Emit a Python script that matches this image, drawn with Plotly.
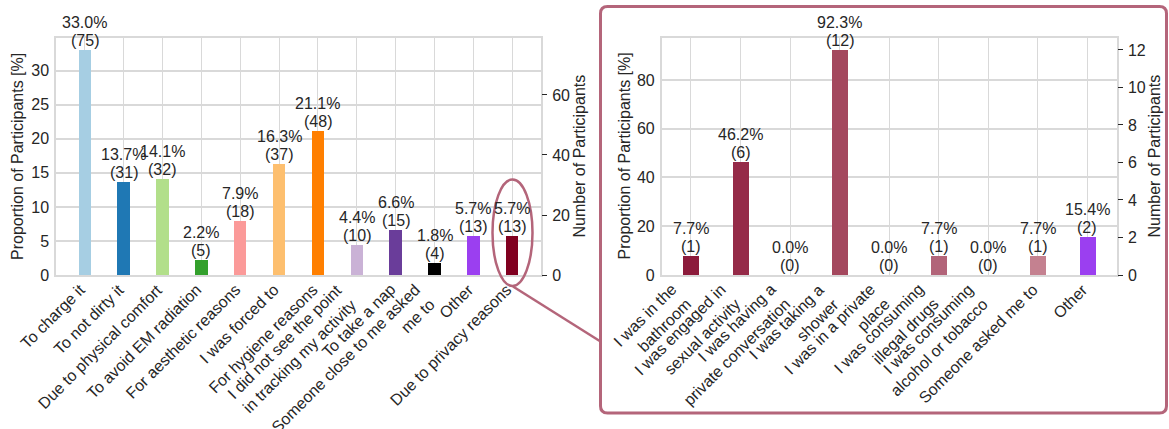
import plotly.graph_objects as go

W, H = 1169, 429

# ---------------- data ----------------
left_labels = [
    "To charge it", "To not dirty it", "Due to physical comfort", "To avoid EM radiation",
    "For aesthetic reasons", "I was forced to", "For hygiene reasons",
    "I did not see the point<br>in tracking my activity", "To take a nap",
    "Someone close to me asked<br>me to", "Other", "Due to privacy reasons",
]
left_pct = [33.0, 13.7, 14.1, 2.2, 7.9, 16.3, 21.1, 4.4, 6.6, 1.8, 5.7, 5.7]
left_cnt = [75, 31, 32, 5, 18, 37, 48, 10, 15, 4, 13, 13]
left_total = 227
left_colors = ["#a6cee3", "#1f78b4", "#b2df8a", "#33a02c", "#fb9a99", "#fdbf6f",
               "#ff7f00", "#cab2d6", "#6a3d9a", "#000000", "#9b3ff0", "#800020"]

right_labels = [
    "I was in the<br>bathroom", "I was engaged in<br>sexual activity",
    "I was having a<br>private conversation", "I was taking a<br>shower",
    "I was in a private<br>place", "I was consuming<br>illegal drugs",
    "I was consuming<br>alcohol or tobacco", "Someone asked me to", "Other",
]
right_pct = [7.7, 46.2, 0.0, 92.3, 0.0, 7.7, 0.0, 7.7, 15.4]
right_cnt = [1, 6, 0, 12, 0, 1, 0, 1, 2]
right_total = 13
right_colors = ["#8c1b3b", "#952a48", "#9c3852", "#a4485e", "#ab566b", "#b26479",
                "#ba7283", "#c48190", "#9b3ff0"]

y_title_pct = "Proportion of Participants [%]"
y_title_cnt = "Number of Participants"

# ---------------- style ----------------
FONT = "Liberation Sans, Arial, sans-serif"
TXT = "#262626"
GRID = "#d9d9d9"
ACC = "#b4657a"
FS = 16


def px_x(v):
    return v / W


def px_y(v):
    return 1 - v / H


fig = go.Figure()

fig.add_trace(go.Bar(
    x=list(range(len(left_labels))), y=left_pct, marker_color=left_colors, marker_line_width=0,
    width=0.32, xaxis="x", yaxis="y", showlegend=False, hoverinfo="skip"))
fig.add_trace(go.Scatter(
    x=list(range(len(left_labels))), y=left_cnt, mode="markers", marker=dict(opacity=0),
    xaxis="x", yaxis="y2", showlegend=False, hoverinfo="skip"))

fig.add_trace(go.Bar(
    x=list(range(len(right_labels))), y=right_pct, marker_color=right_colors, marker_line_width=0,
    width=0.32, xaxis="x2", yaxis="y3", showlegend=False, hoverinfo="skip"))
fig.add_trace(go.Scatter(
    x=list(range(len(right_labels))), y=right_cnt, mode="markers", marker=dict(opacity=0),
    xaxis="x2", yaxis="y4", showlegend=False, hoverinfo="skip"))

y_bot, y_top = 275, 38
ydom = [px_y(y_bot), px_y(y_top)]
lx = [px_x(56), px_x(541)]
rx = [px_x(661.7), px_x(1116.7)]

left_top = 34.8
right_top = 97.2

common_x = dict(showgrid=True, gridcolor=GRID, gridwidth=1,
                showline=True, linecolor=GRID, linewidth=1.5, mirror=True,
                showticklabels=False, ticks="", zeroline=False, automargin=False)
common_y = dict(showgrid=True, gridcolor=GRID, gridwidth=1.5, showline=True,
                linecolor=GRID, linewidth=1.5, mirror=True, ticks="",
                tickfont=dict(size=FS, color=TXT, family=FONT), zeroline=False,
                automargin=False, ticklabelstandoff=2)
sec_y = dict(showgrid=False, showline=False, ticks="outside", ticklen=5, tickwidth=1,
             tickcolor=TXT, tickfont=dict(size=FS, color=TXT, family=FONT),
             zeroline=False, side="right", automargin=False, ticklabelstandoff=2)

fig.update_layout(
    width=W, height=H, margin=dict(l=0, r=0, t=0, b=0),
    paper_bgcolor="white", plot_bgcolor="white",
    font=dict(family=FONT, size=FS, color=TXT),
    bargap=0,
    xaxis=dict(domain=lx, range=[-0.74, len(left_labels) - 1 + 0.74], anchor="y",
               tickmode="array", tickvals=list(range(len(left_labels))), **common_x),
    yaxis=dict(domain=ydom, range=[0, left_top], dtick=5, anchor="x", **common_y),
    yaxis2=dict(overlaying="y", anchor="x", range=[0, left_top * left_total / 100], dtick=20, **sec_y),
    xaxis2=dict(domain=rx, range=[-0.59, len(right_labels) - 1 + 0.59], anchor="y3",
                tickmode="array", tickvals=list(range(len(right_labels))), **common_x),
    yaxis3=dict(domain=ydom, range=[0, right_top], dtick=20, anchor="x2", **common_y),
    yaxis4=dict(overlaying="y3", anchor="x2", range=[0, right_top * right_total / 100], dtick=2, **sec_y),
)

# value labels above bars (two lines, matplotlib-like spacing)
for xref, yref, pcts, cnts in (("x", "y", left_pct, left_cnt), ("x2", "y3", right_pct, right_cnt)):
    for i, (p, c) in enumerate(zip(pcts, cnts)):
        fig.add_annotation(x=i, y=p, xref=xref, yref=yref, text=f"({c})", showarrow=False,
                           xanchor="center", yanchor="bottom", yshift=-1,
                           font=dict(size=FS, color=TXT, family=FONT))
        fig.add_annotation(x=i, y=p, xref=xref, yref=yref, text=f"{p:.1f}%", showarrow=False,
                           xanchor="center", yanchor="bottom", yshift=17,
                           font=dict(size=FS, color=TXT, family=FONT))

# rotated category labels (anchored like matplotlib ha='right', rotation=45)
for xref, labels in (("x", left_labels), ("x2", right_labels)):
    for i, lab in enumerate(labels):
        fig.add_annotation(x=i, y=ydom[0], xref=xref, yref="paper", text=lab,
                           textangle=-45, xanchor="right", yanchor="top", align="right",
                           showarrow=False, xshift=6, yshift=-3,
                           font=dict(size=FS, color=TXT, family=FONT))

# axis titles
for xpix, t in ((17.5, y_title_pct), (579, y_title_cnt), (624, y_title_pct), (1154, y_title_cnt)):
    fig.add_annotation(x=px_x(xpix), y=px_y((y_bot + y_top) / 2), xref="paper", yref="paper",
                       text=t, textangle=-90, showarrow=False, xanchor="center", yanchor="middle",
                       font=dict(size=FS, color=TXT, family=FONT))

# highlight ellipse around privacy bar, connector, and rounded box
ex0, ex1, ey0, ey1 = 492.5, 532.5, 179.5, 286.0
fig.add_shape(type="circle", xref="paper", yref="paper",
              x0=px_x(ex0), x1=px_x(ex1), y0=px_y(ey1), y1=px_y(ey0),
              line=dict(color=ACC, width=2.5), layer="above")
fig.add_shape(type="line", xref="paper", yref="paper",
              x0=px_x(513), y0=px_y(286.5), x1=px_x(600.5), y1=px_y(341.5),
              line=dict(color=ACC, width=2.5), layer="above")

bx0, by0, bx1, by1, r = 600.5, 6.5, 1166.5, 413.0, 7


def P(x, y):
    return f"{px_x(x):.5f},{px_y(y):.5f}"


path = (f"M {P(bx0 + r, by0)} L {P(bx1 - r, by0)} Q {P(bx1, by0)} {P(bx1, by0 + r)} "
        f"L {P(bx1, by1 - r)} Q {P(bx1, by1)} {P(bx1 - r, by1)} "
        f"L {P(bx0 + r, by1)} Q {P(bx0, by1)} {P(bx0, by1 - r)} "
        f"L {P(bx0, by0 + r)} Q {P(bx0, by0)} {P(bx0 + r, by0)} Z")
fig.add_shape(type="path", xref="paper", yref="paper", path=path,
              line=dict(color=ACC, width=3), layer="above")

fig.write_html("out.html", config={"displayModeBar": False},
               post_script="document.body.style.margin='0px';document.body.style.overflow='hidden';")
